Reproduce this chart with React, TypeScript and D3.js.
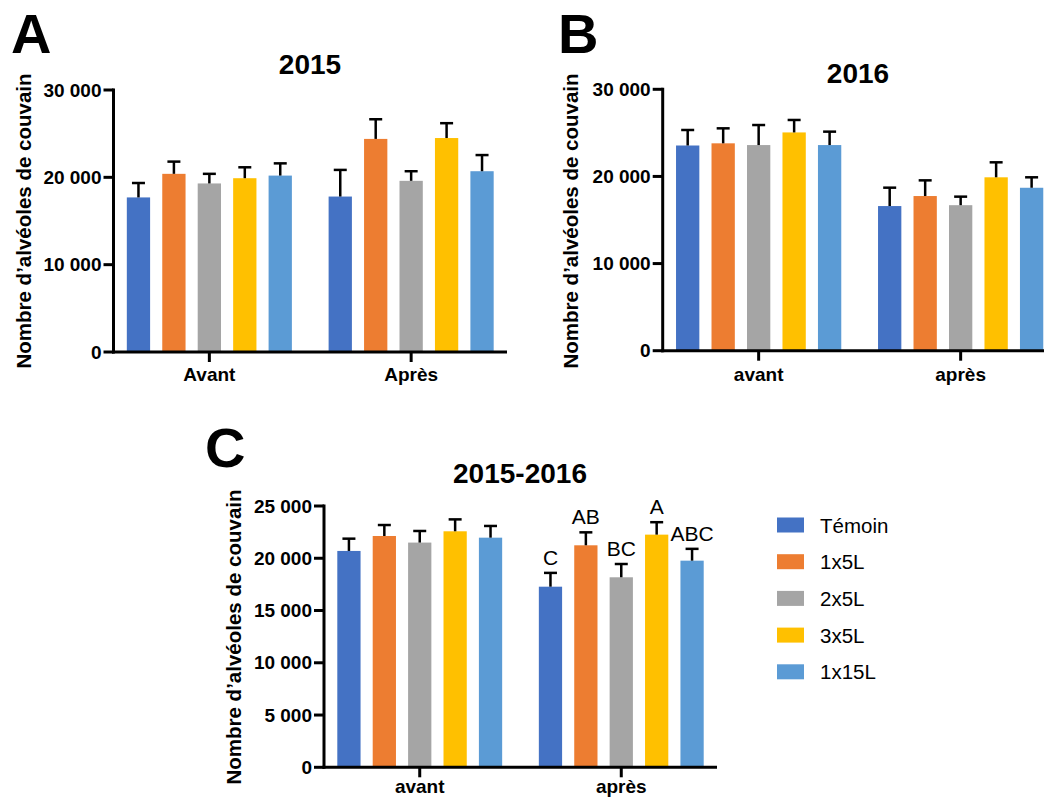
import React from "react";
import * as d3 from "d3";

// ---------- DATA ----------
const series = ["Témoin", "1x5L", "2x5L", "3x5L", "1x15L"];
const colors = ["#4472C4", "#ED7D31", "#A5A5A5", "#FFC000", "#5B9BD5"];

const categoriesA = ["Avant", "Après"];
const categoriesB = ["avant", "après"];
const categoriesC = ["avant", "après"];

// 2015 (panel A): means and SEM per category, in series order
const meansA_avant = [17700, 20400, 19300, 19900, 20200];
const meansA_apres = [17800, 24400, 19600, 24500, 20700];
const semA_avant = [1650, 1400, 1100, 1250, 1400];
const semA_apres = [3050, 2250, 1100, 1700, 1850];

// 2016 (panel B)
const meansB_avant = [23550, 23800, 23600, 25050, 23600];
const meansB_apres = [16600, 17750, 16700, 19900, 18700];
const semB_avant = [1780, 1720, 2300, 1430, 1540];
const semB_apres = [2110, 1800, 980, 1720, 1200];

// 2015-2016 (panel C)
const meansC_avant = [20700, 22130, 21500, 22580, 21970];
const meansC_apres = [17280, 21240, 18180, 22260, 19770];
const semC_avant = [1175, 1050, 1110, 1140, 1120];
const semC_apres = [1320, 1240, 1270, 1190, 1130];
const lettersC_apres = ["C", "AB", "BC", "A", "ABC"];

const ticksA = [0, 10000, 20000, 30000];
const ticksB = [0, 10000, 20000, 30000];
const ticksC = [0, 5000, 10000, 15000, 20000, 25000];

const yTitle = "Nombre d\u2019alvéoles de couvain";

// ---------- HELPERS ----------
const FONT = "'Liberation Sans', Arial, Helvetica, sans-serif";
const locale = d3.formatLocale({ decimal: ",", thousands: " ", grouping: [3], currency: ["", ""] });
const fmt = locale.format(",");

type PanelProps = {
  letter: string; letterX: number; letterY: number;
  title: string; titleX: number; titleY: number;
  axisX: number; xEnd: number; y0: number; yTop: number; yMax: number;
  ticks: number[];
  ylabelX: number; ylabelY: number; catY: number;
  cats: string[];
  means: number[][]; sems: number[][];
  letters?: (string[] | null)[];
};

function Panel(p: PanelProps) {
  const y = d3.scaleLinear().domain([0, p.yMax]).range([p.y0, p.yTop]);
  const xOuter = d3.scaleBand<string>().domain(p.cats).range([p.axisX, p.xEnd]).paddingInner(0.182).paddingOuter(0.066);
  const xInner = d3.scaleBand<string>().domain(series).range([0, xOuter.bandwidth()]).paddingInner(0.343).paddingOuter(0);
  const bw = xInner.bandwidth();
  const capW = 13;
  return (
    <g>
      <text x={p.letterX} y={p.letterY} fontSize={56} fontWeight="bold" fontFamily={FONT}>{p.letter}</text>
      <text x={p.titleX} y={p.titleY} fontSize={28} fontWeight="bold" fontFamily={FONT} textAnchor="middle">{p.title}</text>
      <text transform={`translate(${p.ylabelX},${p.ylabelY}) rotate(-90)`} fontSize={20.5} fontWeight="bold"
        fontFamily={FONT} textAnchor="middle" dominantBaseline="central">{yTitle}</text>
      {/* bars */}
      {p.cats.map((c, ci) => (
        <g key={c}>
          {series.map((s, si) => {
            const v = p.means[ci][si];
            const e = v + p.sems[ci][si];
            const x = (xOuter(c) as number) + (xInner(s) as number);
            const cx = x + bw / 2;
            const lab = p.letters && p.letters[ci] ? p.letters[ci]![si] : null;
            return (
              <g key={s}>
                <rect x={x} y={y(v)} width={bw} height={p.y0 - y(v)} fill={colors[si]} />
                <line x1={cx} x2={cx} y1={y(v)} y2={y(e)} stroke="#000" strokeWidth={2.5} />
                <line x1={cx - capW / 2} x2={cx + capW / 2} y1={y(e)} y2={y(e)} stroke="#000" strokeWidth={2.5} />
                {lab && (
                  <text x={cx} y={y(e) - 8} fontSize={21} fontFamily={FONT} textAnchor="middle">{lab}</text>
                )}
              </g>
            );
          })}
        </g>
      ))}
      {/* y axis */}
      <line x1={p.axisX} x2={p.axisX} y1={p.yTop - 1.5} y2={p.y0 + 1.5} stroke="#000" strokeWidth={3} />
      {p.ticks.map((t) => (
        <g key={t}>
          <line x1={p.axisX - 10} x2={p.axisX} y1={y(t)} y2={y(t)} stroke="#000" strokeWidth={3} />
          <text x={p.axisX - 12} y={y(t)} fontSize={19} fontWeight="bold" fontFamily={FONT}
            textAnchor="end" dominantBaseline="central">{fmt(t)}</text>
        </g>
      ))}
      {/* x axis */}
      <line x1={p.axisX - 1.5} x2={p.xEnd} y1={p.y0} y2={p.y0} stroke="#000" strokeWidth={3} />
      {p.cats.map((c) => {
        const cx = (xOuter(c) as number) + xOuter.bandwidth() / 2;
        return (
          <g key={c}>
            <line x1={cx} x2={cx} y1={p.y0} y2={p.y0 + 10} stroke="#000" strokeWidth={3} />
            <text x={cx} y={p.catY} fontSize={19} fontWeight="bold" fontFamily={FONT} textAnchor="middle">{c}</text>
          </g>
        );
      })}
    </g>
  );
}

export default function App() {
  return (
    <svg width={1044} height={798} style={{ position: "absolute", left: 0, top: 0, background: "#fff" }}>
      <rect x={0} y={0} width={1044} height={798} fill="#fff" />
      <Panel letter="A" letterX={11} letterY={53} title="2015" titleX={310} titleY={74}
        axisX={113.5} xEnd={507} y0={352} yTop={90} yMax={30000} ticks={ticksA}
        ylabelX={23.5} ylabelY={221} catY={381} cats={categoriesA}
        means={[meansA_avant, meansA_apres]} sems={[semA_avant, semA_apres]} />
      <Panel letter="B" letterX={558} letterY={53} title="2016" titleX={858} titleY={83}
        axisX={662.7} xEnd={1056.6} y0={350.7} yTop={89.3} yMax={30000} ticks={ticksB}
        ylabelX={570} ylabelY={221} catY={381} cats={categoriesB}
        means={[meansB_avant, meansB_apres]} sems={[semB_avant, semB_apres]} />
      <Panel letter="C" letterX={205} letterY={467} title="2015-2016" titleX={520} titleY={483}
        axisX={324} xEnd={717} y0={767.3} yTop={506} yMax={25000} ticks={ticksC}
        ylabelX={233} ylabelY={637} catY={793} cats={categoriesC}
        means={[meansC_avant, meansC_apres]} sems={[semC_avant, semC_apres]}
        letters={[null, lettersC_apres]} />
      {/* legend */}
      {series.map((s, i) => {
        const cy = 525 + i * 36.7;
        return (
          <g key={s}>
            <rect x={777} y={cy - 7.5} width={27} height={15} fill={colors[i]} />
            <text x={820} y={cy} fontSize={20.5} fontFamily={FONT} dominantBaseline="central">{s}</text>
          </g>
        );
      })}
    </svg>
  );
}
